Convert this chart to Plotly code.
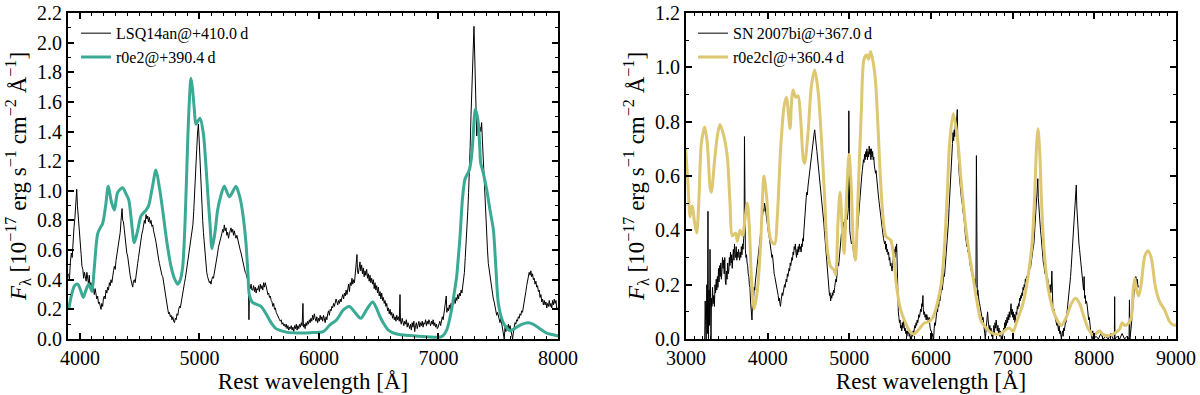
import plotly.graph_objects as go

# ─── Data ─────────────────────────────────────────────────────────────────────

# Left panel: LSQ14an observed spectrum
LSQ_WAVE = [
    3905, 3912, 3920, 3928, 3935, 3942, 3950, 3958, 3966, 3973, 3979, 3985, 3991, 3997, 4003, 4010,
    4017, 4024, 4031, 4038, 4045, 4052, 4058, 4065, 4072, 4078, 4084, 4091, 4098, 4105, 4112, 4120,
    4127, 4134, 4141, 4148, 4155, 4162, 4169, 4176, 4183, 4190, 4197, 4204, 4211, 4218, 4225, 4232,
    4239, 4246, 4253, 4260, 4267, 4274, 4281, 4288, 4295, 4302, 4309, 4316, 4323, 4330, 4337, 4344,
    4352, 4358, 4364, 4371, 4378, 4385, 4392, 4399, 4406, 4413, 4420, 4427, 4434, 4441, 4448, 4455,
    4462, 4469, 4476, 4483, 4490, 4497, 4504, 4511, 4518, 4525, 4532, 4539, 4546, 4553, 4560, 4567,
    4574, 4581, 4588, 4595, 4602, 4609, 4616, 4623, 4630, 4637, 4644, 4651, 4658, 4665, 4672, 4679,
    4686, 4693, 4700, 4707, 4714, 4721, 4728, 4735, 4742, 4749, 4756, 4763, 4770, 4777, 4784, 4791,
    4798, 4805, 4812, 4819, 4826, 4833, 4840, 4847, 4854, 4861, 4868, 4875, 4882, 4889, 4896, 4903,
    4910, 4917, 4924, 4931, 4938, 4945, 4952, 4958, 4964, 4970, 4977, 4984, 4991, 4997, 5003, 5009,
    5015, 5021, 5027, 5033, 5040, 5047, 5054, 5061, 5068, 5076, 5083, 5090, 5096, 5103, 5110, 5117,
    5124, 5131, 5138, 5145, 5152, 5159, 5166, 5173, 5180, 5187, 5194, 5201, 5208, 5215, 5222, 5229,
    5236, 5243, 5250, 5257, 5264, 5271, 5278, 5285, 5292, 5299, 5306, 5313, 5320, 5327, 5334, 5341,
    5348, 5355, 5362, 5369, 5376, 5383, 5390, 5397, 5403, 5410, 5414, 5418, 5425, 5432, 5439, 5446,
    5453, 5460, 5467, 5474, 5481, 5488, 5495, 5502, 5509, 5516, 5523, 5530, 5537, 5544, 5551, 5558,
    5565, 5572, 5579, 5586, 5593, 5600, 5607, 5614, 5621, 5628, 5635, 5642, 5649, 5656, 5663, 5670,
    5677, 5684, 5691, 5698, 5705, 5712, 5719, 5726, 5733, 5740, 5747, 5754, 5761, 5768, 5775, 5782,
    5789, 5796, 5803, 5810, 5817, 5824, 5831, 5838, 5845, 5852, 5859, 5866, 5870, 5877, 5884, 5891,
    5898, 5905, 5912, 5919, 5926, 5933, 5940, 5947, 5954, 5961, 5968, 5975, 5982, 5989, 5996, 6003,
    6010, 6017, 6024, 6031, 6038, 6045, 6052, 6059, 6066, 6073, 6080, 6087, 6094, 6101, 6108, 6115,
    6122, 6129, 6136, 6143, 6150, 6157, 6164, 6171, 6178, 6185, 6192, 6199, 6206, 6213, 6220, 6227,
    6234, 6241, 6248, 6255, 6262, 6269, 6276, 6283, 6290, 6297, 6304, 6311, 6318, 6322, 6329, 6336,
    6343, 6350, 6357, 6364, 6371, 6378, 6385, 6392, 6399, 6406, 6413, 6420, 6427, 6434, 6441, 6448,
    6455, 6462, 6469, 6476, 6483, 6490, 6497, 6504, 6511, 6518, 6525, 6532, 6539, 6546, 6553, 6560,
    6567, 6574, 6581, 6588, 6595, 6602, 6609, 6616, 6623, 6630, 6637, 6644, 6651, 6658, 6665, 6672,
    6678, 6682, 6689, 6696, 6703, 6710, 6717, 6724, 6731, 6738, 6745, 6752, 6759, 6766, 6773, 6780,
    6787, 6794, 6801, 6808, 6815, 6822, 6829, 6836, 6843, 6850, 6857, 6864, 6871, 6878, 6885, 6892,
    6899, 6906, 6913, 6920, 6927, 6934, 6941, 6948, 6955, 6962, 6969, 6976, 6983, 6990, 6997, 7004,
    7011, 7018, 7025, 7032, 7039, 7046, 7053, 7060, 7065, 7070, 7077, 7084, 7091, 7098, 7105, 7112,
    7119, 7126, 7133, 7140, 7147, 7154, 7161, 7168, 7175, 7182, 7189, 7196, 7203, 7210, 7217, 7224,
    7231, 7238, 7245, 7252, 7258, 7265, 7272, 7279, 7286, 7292, 7297, 7302, 7308, 7314, 7320, 7326,
    7333, 7340, 7347, 7354, 7361, 7368, 7375, 7382, 7389, 7396, 7403, 7410, 7417, 7424, 7431, 7438,
    7445, 7452, 7459, 7466, 7473, 7480, 7487, 7494, 7501, 7508, 7515, 7522, 7529, 7536, 7543, 7550,
    7557, 7564, 7571, 7578, 7585, 7592, 7599, 7606, 7613, 7620, 7626, 7633, 7640, 7647, 7654, 7661,
    7668, 7675, 7682, 7689, 7696, 7703, 7710, 7717, 7724, 7731, 7738, 7745, 7752, 7759, 7766, 7773,
    7780, 7787, 7794, 7801, 7808, 7815, 7822, 7829, 7836, 7843, 7850, 7857, 7864, 7871, 7878, 7885,
    7892, 7899, 7906, 7913, 7920, 7927, 7934, 7941, 7948, 7955, 7962, 7969, 7976, 7983, 7990, 7997,
    8003,
]
LSQ_FLUX = [
    0.44, 0.40, 0.52, 0.58, 0.55, 0.68, 0.75, 0.82, 0.92, 1.01, 0.90, 0.82, 0.76, 0.70, 0.63, 0.57,
    0.49, 0.47, 0.41, 0.45, 0.42, 0.39, 0.45, 0.40, 0.37, 0.43, 0.35, 0.38, 0.33, 0.39, 0.34, 0.30,
    0.34, 0.31, 0.27, 0.29, 0.24, 0.25, 0.21, 0.20, 0.24, 0.22, 0.28, 0.29, 0.27, 0.33, 0.31, 0.35,
    0.33, 0.38, 0.36, 0.40, 0.38, 0.44, 0.46, 0.49, 0.47, 0.53, 0.57, 0.60, 0.63, 0.67, 0.72, 0.80,
    0.88, 0.80, 0.79, 0.74, 0.67, 0.62, 0.58, 0.56, 0.50, 0.46, 0.43, 0.40, 0.38, 0.35, 0.39, 0.40,
    0.38, 0.44, 0.47, 0.51, 0.55, 0.60, 0.63, 0.67, 0.71, 0.73, 0.77, 0.80, 0.78, 0.84, 0.81, 0.83,
    0.79, 0.82, 0.78, 0.80, 0.76, 0.77, 0.73, 0.71, 0.68, 0.65, 0.60, 0.58, 0.54, 0.51, 0.48, 0.46,
    0.43, 0.42, 0.38, 0.33, 0.29, 0.26, 0.22, 0.20, 0.17, 0.18, 0.15, 0.16, 0.13, 0.15, 0.12, 0.11,
    0.14, 0.13, 0.17, 0.16, 0.20, 0.22, 0.21, 0.25, 0.28, 0.31, 0.35, 0.38, 0.41, 0.45, 0.48, 0.51,
    0.55, 0.58, 0.62, 0.66, 0.70, 0.77, 0.86, 0.94, 1.04, 1.15, 1.28, 1.39, 1.45, 1.35, 1.22, 1.08,
    0.97, 0.87, 0.80, 0.72, 0.65, 0.55, 0.47, 0.45, 0.42, 0.40, 0.38, 0.39, 0.37, 0.40, 0.42, 0.41,
    0.44, 0.48, 0.51, 0.55, 0.58, 0.62, 0.64, 0.67, 0.69, 0.71, 0.74, 0.72, 0.77, 0.73, 0.75, 0.70,
    0.72, 0.68, 0.71, 0.74, 0.75, 0.72, 0.74, 0.70, 0.73, 0.70, 0.68, 0.70, 0.67, 0.64, 0.62, 0.60,
    0.58, 0.55, 0.52, 0.50, 0.47, 0.45, 0.44, 0.42, 0.40, 0.38, 0.13, 0.36, 0.34, 0.37, 0.33, 0.33,
    0.36, 0.32, 0.35, 0.31, 0.34, 0.33, 0.36, 0.32, 0.37, 0.34, 0.36, 0.33, 0.38, 0.35, 0.38, 0.36,
    0.33, 0.30, 0.31, 0.28, 0.29, 0.26, 0.25, 0.22, 0.24, 0.20, 0.21, 0.18, 0.17, 0.15, 0.14, 0.13,
    0.12, 0.13, 0.10, 0.11, 0.09, 0.10, 0.08, 0.10, 0.07, 0.09, 0.06, 0.08, 0.07, 0.09, 0.06, 0.08,
    0.05, 0.09, 0.07, 0.10, 0.06, 0.09, 0.07, 0.10, 0.08, 0.11, 0.09, 0.24, 0.08, 0.10, 0.07, 0.11,
    0.09, 0.12, 0.10, 0.13, 0.11, 0.14, 0.12, 0.16, 0.13, 0.17, 0.14, 0.12, 0.15, 0.11, 0.14, 0.12,
    0.16, 0.13, 0.15, 0.12, 0.16, 0.14, 0.11, 0.15, 0.13, 0.17, 0.19, 0.16, 0.20, 0.19, 0.22, 0.21,
    0.24, 0.22, 0.25, 0.27, 0.25, 0.23, 0.26, 0.24, 0.27, 0.25, 0.28, 0.30, 0.27, 0.31, 0.29, 0.33,
    0.30, 0.34, 0.37, 0.32, 0.38, 0.36, 0.41, 0.37, 0.40, 0.38, 0.45, 0.49, 0.57, 0.46, 0.44, 0.48,
    0.52, 0.46, 0.50, 0.44, 0.48, 0.42, 0.46, 0.43, 0.47, 0.41, 0.44, 0.39, 0.43, 0.38, 0.41, 0.37,
    0.40, 0.34, 0.38, 0.33, 0.36, 0.31, 0.35, 0.29, 0.32, 0.27, 0.31, 0.26, 0.28, 0.24, 0.26, 0.22,
    0.24, 0.19, 0.21, 0.17, 0.20, 0.16, 0.18, 0.14, 0.17, 0.13, 0.15, 0.12, 0.16, 0.13, 0.15, 0.12,
    0.30, 0.12, 0.10, 0.14, 0.11, 0.09, 0.12, 0.10, 0.13, 0.08, 0.11, 0.09, 0.07, 0.10, 0.06, 0.11,
    0.08, 0.12, 0.05, 0.09, 0.11, 0.07, 0.10, 0.12, 0.08, 0.11, 0.09, 0.12, 0.08, 0.11, 0.10, 0.13,
    0.09, 0.12, 0.10, 0.13, 0.11, 0.09, 0.12, 0.10, 0.13, 0.09, 0.11, 0.08, 0.10, 0.07, 0.08, 0.10,
    0.12, 0.09, 0.13, 0.15, 0.13, 0.17, 0.20, 0.24, 0.29, 0.18, 0.21, 0.19, 0.23, 0.20, 0.24, 0.21,
    0.25, 0.23, 0.27, 0.24, 0.28, 0.26, 0.30, 0.27, 0.31, 0.29, 0.33, 0.31, 0.35, 0.38, 0.45, 0.55,
    0.64, 0.74, 0.86, 0.99, 1.10, 1.30, 1.51, 1.72, 1.89, 2.02, 2.11, 1.95, 1.78, 1.55, 1.37, 1.42,
    1.46, 1.38, 1.43, 1.40, 1.46, 1.33, 1.21, 1.02, 0.87, 0.77, 0.69, 0.60, 0.51, 0.47, 0.42, 0.38,
    0.33, 0.30, 0.27, 0.25, 0.22, 0.20, 0.16, 0.18, 0.15, 0.13, 0.11, 0.14, 0.10, 0.08, 0.05, 0.00,
    0.08, 0.05, 0.09, 0.06, 0.10, 0.07, 0.09, 0.05, 0.03, 0.00, 0.04, 0.08, 0.11, 0.10, 0.13, 0.12,
    0.15, 0.14, 0.17, 0.16, 0.19, 0.18, 0.21, 0.24, 0.28, 0.32, 0.36, 0.39, 0.42, 0.45, 0.43, 0.46,
    0.42, 0.44, 0.40, 0.41, 0.37, 0.39, 0.35, 0.36, 0.32, 0.33, 0.28, 0.30, 0.25, 0.27, 0.23, 0.26,
    0.23, 0.25, 0.21, 0.24, 0.22, 0.26, 0.22, 0.24, 0.21, 0.26, 0.23, 0.27, 0.24, 0.26, 0.20, 0.21,
    0.20,
]

# Left panel: r0e2 model
R0E2_WAVE = [
    3906, 3930, 3955, 3981, 4005, 4028, 4050, 4073, 4090, 4101, 4120, 4148, 4170, 4190, 4215, 4237,
    4262, 4288, 4316, 4357, 4385, 4408, 4430, 4455, 4485, 4511, 4553, 4575, 4605, 4636, 4665, 4692,
    4728, 4762, 4790, 4818, 4840, 4860, 4880, 4901, 4915, 4929, 4943, 4957, 4971, 5004, 5032, 5050,
    5069, 5088, 5105, 5130, 5152, 5180, 5208, 5250, 5306, 5330, 5348, 5370, 5389, 5405, 5417, 5440,
    5459, 5515, 5557, 5585, 5612, 5640, 5668, 5710, 5752, 5836, 5925, 6037, 6092, 6148, 6204, 6254,
    6300, 6349, 6400, 6449, 6480, 6511, 6545, 6580, 6650, 6762, 6901, 7027, 7068, 7110, 7130, 7152,
    7166, 7180, 7202, 7222, 7240, 7258, 7275, 7286, 7308, 7320, 7333, 7345, 7353, 7375, 7403, 7431,
    7459, 7470, 7481, 7501, 7537, 7565, 7598, 7625, 7654, 7700, 7752, 7790, 7822, 7865, 7905, 7950,
    8003,
]
R0E2_FLUX = [
    0.20, 0.30, 0.36, 0.37, 0.33, 0.28, 0.33, 0.37, 0.34, 0.32, 0.48, 0.71, 0.75, 0.78, 0.90, 1.03,
    0.93, 0.87, 0.99, 1.02, 0.98, 0.94, 0.80, 0.65, 0.74, 0.83, 0.87, 0.90, 1.02, 1.14, 1.02, 0.87,
    0.65, 0.49, 0.41, 0.37, 0.40, 0.49, 0.80, 1.32, 1.60, 1.76, 1.68, 1.55, 1.45, 1.49, 1.39, 1.22,
    0.99, 0.78, 0.61, 0.72, 0.87, 0.97, 1.03, 0.96, 1.03, 0.98, 0.92, 0.80, 0.65, 0.45, 0.30, 0.25,
    0.24, 0.22, 0.17, 0.13, 0.095, 0.07, 0.06, 0.05, 0.043, 0.04, 0.043, 0.05, 0.095, 0.13, 0.196, 0.22,
    0.18, 0.14, 0.20, 0.25, 0.21, 0.15, 0.10, 0.06, 0.034, 0.023, 0.016, 0.016, 0.06, 0.20, 0.30, 0.42,
    0.55, 0.69, 0.96, 1.08, 1.11, 1.14, 1.22, 1.32, 1.55, 1.52, 1.46, 1.30, 1.19, 1.12, 1.01, 0.87,
    0.74, 0.62, 0.47, 0.24, 0.12, 0.08, 0.056, 0.065, 0.08, 0.10, 0.11, 0.10, 0.084, 0.06, 0.04, 0.03,
    0.02,
]

# Right panel: SN 2007bi observed spectrum
SN07_WAVE = [
    3229, 3235, 3241, 3247, 3255, 3262, 3269, 3275, 3282, 3288, 3294, 3300, 3306, 3312, 3318, 3325,
    3332, 3340, 3348, 3355, 3362, 3370, 3377, 3384, 3391, 3398, 3405, 3412, 3419, 3426, 3433, 3440,
    3447, 3454, 3461, 3468, 3475, 3482, 3489, 3496, 3503, 3510, 3517, 3524, 3531, 3538, 3545, 3552,
    3559, 3566, 3573, 3580, 3587, 3594, 3601, 3608, 3615, 3622, 3629, 3636, 3643, 3650, 3657, 3664,
    3671, 3678, 3685, 3692, 3699, 3706, 3712, 3716, 3720, 3727, 3734, 3741, 3748, 3755, 3762, 3769,
    3776, 3783, 3790, 3797, 3804, 3808, 3814, 3821, 3828, 3835, 3842, 3849, 3856, 3863, 3870, 3877,
    3884, 3891, 3898, 3905, 3912, 3919, 3926, 3933, 3940, 3947, 3954, 3961, 3968, 3975, 3982, 3989,
    3996, 4003, 4010, 4017, 4024, 4031, 4038, 4045, 4052, 4059, 4066, 4073, 4080, 4087, 4094, 4101,
    4108, 4115, 4122, 4129, 4136, 4143, 4150, 4157, 4164, 4171, 4178, 4185, 4192, 4199, 4206, 4213,
    4220, 4227, 4234, 4241, 4248, 4255, 4262, 4269, 4276, 4283, 4290, 4297, 4304, 4311, 4318, 4325,
    4332, 4339, 4346, 4353, 4360, 4367, 4374, 4381, 4388, 4395, 4402, 4409, 4416, 4423, 4430, 4437,
    4444, 4451, 4458, 4465, 4472, 4479, 4486, 4493, 4500, 4507, 4514, 4521, 4528, 4535, 4542, 4549,
    4556, 4563, 4570, 4576, 4582, 4589, 4596, 4603, 4610, 4617, 4624, 4631, 4638, 4645, 4652, 4659,
    4666, 4673, 4680, 4687, 4694, 4701, 4708, 4715, 4722, 4729, 4736, 4743, 4750, 4757, 4764, 4771,
    4778, 4785, 4792, 4799, 4806, 4813, 4820, 4827, 4834, 4841, 4848, 4855, 4862, 4869, 4876, 4883,
    4890, 4897, 4904, 4911, 4918, 4925, 4932, 4939, 4946, 4953, 4960, 4967, 4974, 4981, 4988, 4994,
    4998, 5005, 5012, 5019, 5026, 5033, 5040, 5047, 5054, 5061, 5068, 5075, 5082, 5089, 5096, 5103,
    5110, 5117, 5124, 5131, 5138, 5145, 5152, 5159, 5166, 5173, 5180, 5187, 5194, 5201, 5208, 5215,
    5222, 5229, 5236, 5243, 5250, 5257, 5264, 5271, 5278, 5285, 5292, 5299, 5306, 5313, 5320, 5327,
    5334, 5341, 5348, 5355, 5362, 5369, 5376, 5383, 5390, 5397, 5404, 5411, 5418, 5425, 5432, 5439,
    5446, 5453, 5460, 5467, 5474, 5481, 5488, 5495, 5502, 5509, 5516, 5523, 5530, 5537, 5544, 5551,
    5558, 5565, 5572, 5579, 5586, 5593, 5600, 5607, 5614, 5621, 5628, 5635, 5642, 5649, 5656, 5663,
    5670, 5677, 5684, 5691, 5698, 5705, 5712, 5719, 5726, 5733, 5740, 5747, 5754, 5761, 5768, 5775,
    5782, 5789, 5796, 5803, 5810, 5817, 5824, 5831, 5838, 5845, 5852, 5859, 5866, 5873, 5880, 5887,
    5894, 5901, 5906, 5913, 5920, 5927, 5934, 5941, 5948, 5955, 5962, 5969, 5976, 5983, 5990, 5997,
    6004, 6011, 6018, 6025, 6032, 6039, 6046, 6053, 6060, 6067, 6074, 6081, 6088, 6095, 6102, 6109,
    6116, 6123, 6130, 6137, 6144, 6151, 6158, 6165, 6172, 6179, 6186, 6193, 6200, 6207, 6214, 6221,
    6228, 6235, 6242, 6249, 6256, 6263, 6270, 6277, 6284, 6290, 6296, 6303, 6310, 6316, 6322, 6328,
    6334, 6340, 6347, 6354, 6361, 6368, 6375, 6382, 6389, 6396, 6403, 6410, 6417, 6424, 6431, 6438,
    6445, 6452, 6459, 6466, 6473, 6480, 6487, 6494, 6501, 6508, 6515, 6522, 6529, 6536, 6543, 6550,
    6556, 6560, 6567, 6574, 6581, 6588, 6595, 6602, 6609, 6616, 6623, 6630, 6637, 6644, 6651, 6658,
    6665, 6672, 6679, 6686, 6693, 6700, 6707, 6714, 6721, 6728, 6735, 6742, 6749, 6756, 6763, 6770,
    6777, 6784, 6791, 6798, 6805, 6812, 6819, 6826, 6833, 6840, 6847, 6854, 6861, 6868, 6875, 6882,
    6889, 6896, 6903, 6910, 6917, 6924, 6931, 6938, 6945, 6952, 6959, 6966, 6973, 6980, 6987, 6994,
    7001, 7008, 7015, 7022, 7029, 7036, 7043, 7050, 7057, 7064, 7071, 7078, 7085, 7092, 7099, 7106,
    7113, 7120, 7127, 7134, 7141, 7148, 7155, 7162, 7169, 7176, 7183, 7190, 7197, 7204, 7211, 7218,
    7225, 7232, 7239, 7246, 7253, 7260, 7267, 7274, 7281, 7288, 7295, 7302, 7308, 7314, 7320, 7327,
    7334, 7341, 7348, 7355, 7362, 7369, 7376, 7383, 7390, 7397, 7404, 7411, 7418, 7425, 7432, 7439,
    7446, 7453, 7460, 7467, 7474, 7480, 7485, 7492, 7499, 7506, 7513, 7520, 7527, 7534, 7541, 7548,
    7555, 7562, 7569, 7576, 7583, 7590, 7597, 7604, 7611, 7618, 7625, 7632, 7639, 7646, 7653, 7660,
    7667, 7674, 7681, 7688, 7695, 7702, 7709, 7716, 7723, 7730, 7737, 7744, 7751, 7758, 7765, 7772,
    7779, 7785, 7791, 7798, 7805, 7812, 7819, 7826, 7833, 7840, 7847, 7854, 7861, 7868, 7875, 7882,
    7889, 7896, 7903, 7910, 7917, 7924, 7931, 7938, 7945, 7952, 7959, 7966, 7973, 7980, 7987, 7994,
    8020, 8050, 8080, 8110, 8140, 8170, 8200, 8230, 8245, 8249, 8253, 8280, 8310, 8340, 8370, 8400,
    8425, 8430, 8436, 8450, 8460, 8468, 8476, 8484, 8490, 8496, 8502, 8508, 8514, 8520, 8526, 8532,
    8540,
]
SN07_FLUX = [
    0.00, 0.14, 0.05, 0.00, 0.20, 0.02, 0.47, 0.00, 0.18, 0.05, 0.33, 0.08, 0.00, 0.15, 0.12, 0.19,
    0.13, 0.16, 0.12, 0.20, 0.17, 0.22, 0.18, 0.23, 0.19, 0.26, 0.21, 0.27, 0.23, 0.28, 0.22, 0.25,
    0.30, 0.26, 0.29, 0.24, 0.30, 0.21, 0.20, 0.25, 0.22, 0.28, 0.24, 0.25, 0.30, 0.27, 0.32, 0.28,
    0.31, 0.26, 0.30, 0.33, 0.29, 0.35, 0.31, 0.30, 0.34, 0.29, 0.32, 0.30, 0.33, 0.31, 0.29, 0.32,
    0.30, 0.34, 0.31, 0.35, 0.33, 0.37, 0.40, 0.745, 0.36, 0.33, 0.30, 0.31, 0.28, 0.27, 0.24, 0.23,
    0.20, 0.19, 0.14, 0.12, 0.10, 0.07, 0.13, 0.16, 0.15, 0.19, 0.18, 0.21, 0.23, 0.25, 0.26, 0.28,
    0.29, 0.31, 0.33, 0.35, 0.38, 0.40, 0.43, 0.44, 0.46, 0.48, 0.47, 0.50, 0.49, 0.47, 0.46, 0.44,
    0.43, 0.41, 0.39, 0.38, 0.36, 0.35, 0.34, 0.32, 0.30, 0.31, 0.27, 0.26, 0.24, 0.23, 0.22, 0.21,
    0.20, 0.19, 0.17, 0.16, 0.14, 0.15, 0.13, 0.12, 0.14, 0.15, 0.17, 0.16, 0.18, 0.19, 0.20, 0.19,
    0.21, 0.22, 0.21, 0.24, 0.23, 0.25, 0.26, 0.25, 0.28, 0.27, 0.29, 0.30, 0.29, 0.32, 0.31, 0.34,
    0.33, 0.35, 0.32, 0.30, 0.33, 0.31, 0.34, 0.32, 0.35, 0.33, 0.34, 0.32, 0.35, 0.34, 0.37, 0.36,
    0.40, 0.44, 0.47, 0.50, 0.52, 0.54, 0.53, 0.56, 0.58, 0.59, 0.61, 0.62, 0.64, 0.66, 0.68, 0.70,
    0.72, 0.74, 0.76, 0.77, 0.74, 0.72, 0.71, 0.69, 0.67, 0.64, 0.63, 0.61, 0.58, 0.56, 0.54, 0.52,
    0.50, 0.47, 0.45, 0.43, 0.40, 0.37, 0.35, 0.32, 0.30, 0.27, 0.23, 0.20, 0.18, 0.16, 0.17, 0.14,
    0.16, 0.15, 0.17, 0.16, 0.18, 0.17, 0.19, 0.20, 0.22, 0.21, 0.24, 0.26, 0.28, 0.27, 0.30, 0.33,
    0.34, 0.36, 0.39, 0.38, 0.41, 0.40, 0.43, 0.41, 0.44, 0.40, 0.43, 0.45, 0.44, 0.46, 0.48, 0.84,
    0.45, 0.40, 0.38, 0.37, 0.35, 0.36, 0.34, 0.33, 0.31, 0.30, 0.32, 0.30, 0.33, 0.36, 0.38, 0.41,
    0.44, 0.47, 0.50, 0.52, 0.55, 0.58, 0.60, 0.62, 0.64, 0.66, 0.65, 0.68, 0.66, 0.69, 0.67, 0.70,
    0.66, 0.69, 0.67, 0.71, 0.68, 0.70, 0.66, 0.70, 0.67, 0.69, 0.66, 0.67, 0.64, 0.63, 0.61, 0.62,
    0.59, 0.57, 0.55, 0.53, 0.51, 0.49, 0.47, 0.45, 0.44, 0.42, 0.40, 0.39, 0.37, 0.36, 0.35, 0.36,
    0.33, 0.35, 0.32, 0.33, 0.31, 0.32, 0.29, 0.30, 0.27, 0.28, 0.26, 0.25, 0.27, 0.29, 0.31, 0.33,
    0.30, 0.34, 0.32, 0.35, 0.28, 0.16, 0.10, 0.08, 0.06, 0.07, 0.04, 0.05, 0.03, 0.06, 0.04, 0.07,
    0.05, 0.03, 0.04, 0.02, 0.03, 0.01, 0.03, 0.02, 0.04, 0.01, 0.02, 0.00, 0.01, 0.00, 0.02, 0.01,
    0.03, 0.02, 0.04, 0.05, 0.04, 0.06, 0.05, 0.07, 0.06, 0.08, 0.09, 0.08, 0.10, 0.11, 0.10, 0.13,
    0.12, 0.16, 0.11, 0.09, 0.10, 0.08, 0.09, 0.07, 0.09, 0.08, 0.07, 0.06, 0.08, 0.05, 0.04, 0.03,
    0.03, 0.01, 0.02, 0.00, 0.00, 0.04, 0.06, 0.05, 0.08, 0.09, 0.11, 0.10, 0.13, 0.12, 0.15, 0.14,
    0.16, 0.17, 0.19, 0.18, 0.20, 0.22, 0.24, 0.23, 0.26, 0.28, 0.29, 0.33, 0.37, 0.40, 0.43, 0.48,
    0.53, 0.57, 0.61, 0.66, 0.70, 0.72, 0.76, 0.73, 0.77, 0.745, 0.78, 0.80, 0.79, 0.82, 0.845, 0.72,
    0.64, 0.63, 0.60, 0.57, 0.55, 0.53, 0.51, 0.50, 0.47, 0.46, 0.45, 0.41, 0.40, 0.37, 0.36, 0.34,
    0.35, 0.32, 0.33, 0.30, 0.29, 0.27, 0.26, 0.25, 0.24, 0.23, 0.24, 0.22, 0.21, 0.22, 0.20, 0.19,
    0.675, 0.17, 0.16, 0.18, 0.15, 0.14, 0.13, 0.12, 0.10, 0.09, 0.08, 0.07, 0.08, 0.05, 0.04, 0.02,
    0.00, 0.03, 0.05, 0.08, 0.10, 0.07, 0.05, 0.03, 0.05, 0.02, 0.04, 0.01, 0.02, 0.00, 0.03, 0.05,
    0.02, 0.06, 0.04, 0.07, 0.05, 0.03, 0.05, 0.02, 0.04, 0.01, 0.03, 0.02, 0.00, 0.01, 0.00, 0.02,
    0.04, 0.03, 0.06, 0.04, 0.07, 0.05, 0.08, 0.06, 0.09, 0.07, 0.10, 0.08, 0.11, 0.13, 0.09, 0.11,
    0.08, 0.10, 0.07, 0.09, 0.06, 0.08, 0.10, 0.09, 0.12, 0.11, 0.13, 0.12, 0.15, 0.14, 0.16, 0.15,
    0.17, 0.16, 0.19, 0.18, 0.20, 0.19, 0.22, 0.21, 0.23, 0.22, 0.24, 0.23, 0.26, 0.25, 0.27, 0.26,
    0.28, 0.29, 0.31, 0.33, 0.34, 0.35, 0.38, 0.41, 0.44, 0.47, 0.52, 0.56, 0.59, 0.52, 0.48, 0.45,
    0.43, 0.40, 0.38, 0.35, 0.33, 0.30, 0.28, 0.27, 0.25, 0.24, 0.25, 0.23, 0.22, 0.23, 0.21, 0.20,
    0.19, 0.18, 0.20, 0.17, 0.19, 0.25, 0.15, 0.12, 0.10, 0.11, 0.09, 0.08, 0.07, 0.07, 0.05, 0.06,
    0.04, 0.03, 0.05, 0.02, 0.03, 0.01, 0.00, 0.02, 0.03, 0.01, 0.04, 0.03, 0.05, 0.06, 0.06, 0.08,
    0.10, 0.12, 0.13, 0.15, 0.18, 0.20, 0.23, 0.26, 0.29, 0.33, 0.35, 0.39, 0.43, 0.45, 0.50, 0.53,
    0.567, 0.49, 0.45, 0.41, 0.38, 0.35, 0.33, 0.31, 0.29, 0.28, 0.25, 0.22, 0.20, 0.18, 0.23, 0.15,
    0.16, 0.13, 0.14, 0.13, 0.11, 0.09, 0.07, 0.08, 0.05, 0.04, 0.02, 0.01, 0.00, 0.03, 0.02, 0.00,
    0.01, 0.00, 0.02, 0.00, 0.01, 0.00, 0.02, 0.00, 0.00, 0.156, 0.00, 0.01, 0.00, 0.02, 0.00, 0.01,
    0.00, 0.144, 0.00, 0.04, 0.07, 0.10, 0.13, 0.16, 0.19, 0.22, 0.19, 0.23, 0.21, 0.19, 0.22, 0.20,
    0.19,
]

# Right panel: r0e2cl model
R0E2CL_WAVE = [
    2996, 3024, 3049, 3065, 3078, 3100, 3131, 3159, 3188, 3229, 3261, 3294, 3310, 3351, 3385, 3416,
    3465, 3506, 3539, 3567, 3608, 3629, 3661, 3694, 3718, 3751, 3776, 3800, 3833, 3874, 3914, 3955,
    3988, 4016, 4045, 4086, 4118, 4159, 4200, 4229, 4274, 4290, 4310, 4343, 4372, 4404, 4437, 4453,
    4494, 4535, 4576, 4616, 4657, 4698, 4731, 4772, 4812, 4833, 4861, 4886, 4910, 4935, 4968, 4996,
    5025, 5049, 5074, 5106, 5147, 5180, 5212, 5235, 5261, 5294, 5323, 5351, 5384, 5425, 5449, 5506,
    5539, 5580, 5629, 5690, 5743, 5792, 5853, 5915, 5976, 6024, 6077, 6126, 6167, 6200, 6228, 6273,
    6322, 6371, 6420, 6461, 6514, 6567, 6616, 6665, 6718, 6779, 6861, 6922, 6963, 7004, 7057, 7126,
    7188, 7237, 7269, 7294, 7310, 7330, 7351, 7384, 7433, 7494, 7555, 7596, 7657, 7718, 7771, 7820,
    7874, 7922, 7984, 8024, 8065, 8106, 8167, 8249, 8310, 8339, 8371, 8410, 8453, 8473, 8494, 8518,
    8543, 8575, 8616, 8657, 8698, 8747, 8800, 8861, 8922, 8984, 9004,
]
R0E2CL_FLUX = [
    0.70, 0.57, 0.45, 0.48, 0.49, 0.44, 0.39, 0.52, 0.72, 0.78, 0.72, 0.56, 0.54, 0.66, 0.75, 0.79,
    0.745, 0.67, 0.50, 0.38, 0.39, 0.36, 0.40, 0.38, 0.43, 0.50, 0.41, 0.23, 0.11, 0.18, 0.35, 0.60,
    0.52, 0.40, 0.36, 0.35, 0.45, 0.70, 0.855, 0.89, 0.775, 0.86, 0.917, 0.89, 0.895, 0.81, 0.66, 0.647,
    0.757, 0.93, 0.99, 0.917, 0.745, 0.52, 0.33, 0.266, 0.254, 0.236, 0.43, 0.54, 0.43, 0.315, 0.54, 0.68,
    0.55, 0.35, 0.29, 0.52, 0.84, 1.03, 1.045, 1.03, 1.058, 1.015, 0.94, 0.78, 0.573, 0.41, 0.377, 0.364,
    0.315, 0.19, 0.107, 0.058, 0.027, 0.018, 0.036, 0.058, 0.064, 0.08, 0.13, 0.205, 0.35, 0.54, 0.72, 0.83,
    0.745, 0.573, 0.426, 0.328, 0.23, 0.13, 0.064, 0.045, 0.027, 0.018, 0.021, 0.036, 0.04, 0.027, 0.07, 0.13,
    0.23, 0.35, 0.524, 0.72, 0.774, 0.696, 0.524, 0.328, 0.19, 0.107, 0.064, 0.05, 0.08, 0.13, 0.15, 0.13,
    0.08, 0.04, 0.015, 0.021, 0.03, 0.017, 0.012, 0.021, 0.036, 0.06, 0.05, 0.055, 0.08, 0.17, 0.223, 0.18,
    0.158, 0.205, 0.303, 0.325, 0.297, 0.193, 0.137, 0.107, 0.064, 0.05, 0.055,
]

LEGEND_LEFT = ['LSQ14an@+410.0\u2009d', 'r0e2@+390.4\u2009d']
LEGEND_RIGHT = ['SN\u20092007bi@+367.0\u2009d', 'r0e2cl@+360.4\u2009d']

# ─── Style ────────────────────────────────────────────────────────────────────

FONT = 'Liberation Serif'
TEAL = '#3AAA95'
GOLD = '#DDC871'
YTITLE = '<i>F</i><sub>λ</sub> [10<sup>−17</sup> erg s<sup>−1</sup> cm<sup>−2</sup> Å<sup>−1</sup>]'

# left panel 68..558 px, right panel 686..1176 px, plot rows 13..339 px
FIG_W, FIG_H = 1200, 395
M_L, M_R, M_T, M_B = 68, 24, 13, 56
PLOT_W = FIG_W - M_L - M_R

fig = go.Figure()

fig.add_trace(go.Scatter(x=LSQ_WAVE, y=LSQ_FLUX, name=LEGEND_LEFT[0], mode='lines',
                         line=dict(color='black', width=1), xaxis='x', yaxis='y', legend='legend'))
fig.add_trace(go.Scatter(x=R0E2_WAVE, y=R0E2_FLUX, name=LEGEND_LEFT[1], mode='lines',
                         line=dict(color=TEAL, width=3, shape='spline', smoothing=0.8),
                         xaxis='x', yaxis='y', legend='legend'))
fig.add_trace(go.Scatter(x=SN07_WAVE, y=SN07_FLUX, name=LEGEND_RIGHT[0], mode='lines',
                         line=dict(color='black', width=1), xaxis='x2', yaxis='y2', legend='legend2'))
fig.add_trace(go.Scatter(x=R0E2CL_WAVE, y=R0E2CL_FLUX, name=LEGEND_RIGHT[1], mode='lines',
                         line=dict(color=GOLD, width=3, shape='spline', smoothing=0.8),
                         xaxis='x2', yaxis='y2', legend='legend2'))


def _xaxis(domain, rng, anchor):
    return dict(
        domain=domain, range=rng, anchor=anchor, dtick=1000, tick0=0, automargin=False,
        ticks='inside', ticklen=6, tickwidth=1.5, tickcolor='black', ticklabeloverflow='allow',
        minor=dict(dtick=100, ticks='inside', ticklen=3, tickwidth=1, tickcolor='black'),
        showline=True, linewidth=2, linecolor='black', mirror='ticks',
        showgrid=False, zeroline=False,
        tickfont=dict(family=FONT, size=20, color='black'),
        title=dict(text='Rest wavelength [Å]', font=dict(family=FONT, size=23, color='black'),
                   standoff=4),
    )


def _yaxis(rng, anchor):
    return dict(
        domain=[0, 1], range=rng, anchor=anchor, dtick=0.2, tick0=0, tickformat='.1f',
        automargin=False, ticklabeloverflow='allow',
        ticks='inside', ticklen=6, tickwidth=1.5, tickcolor='black',
        minor=dict(dtick=0.1, ticks='inside', ticklen=3, tickwidth=1, tickcolor='black'),
        showline=True, linewidth=2, linecolor='black', mirror='ticks',
        showgrid=False, zeroline=False,
        tickfont=dict(family=FONT, size=20, color='black'),
        title=dict(text=YTITLE, font=dict(family=FONT, size=23, color='black'), standoff=4),
    )


fig.update_layout(
    width=FIG_W, height=FIG_H,
    paper_bgcolor='white', plot_bgcolor='white',
    margin=dict(l=M_L, r=M_R, t=M_T, b=M_B),
    font=dict(family=FONT, color='black'),
    xaxis=_xaxis([0, 490 / PLOT_W], [3900, 8000], 'y'),
    yaxis=_yaxis([0, 2.2], 'x'),
    xaxis2=_xaxis([618 / PLOT_W, 1], [3000, 9000], 'y2'),
    yaxis2=_yaxis([0, 1.2], 'x2'),
    legend=dict(x=8 / PLOT_W, y=0.99, xanchor='left', yanchor='top',
                bgcolor='rgba(0,0,0,0)', font=dict(family=FONT, size=16, color='black'),
                tracegroupgap=0),
    legend2=dict(x=625 / PLOT_W, y=0.99, xanchor='left', yanchor='top',
                 bgcolor='rgba(0,0,0,0)', font=dict(family=FONT, size=16, color='black'),
                 tracegroupgap=0),
)

# drop the browser's default 8 px body margin so the figure fills the window
fig.write_html('out.html', config={'displayModeBar': False},
               post_script="document.body.style.margin = '0';")
